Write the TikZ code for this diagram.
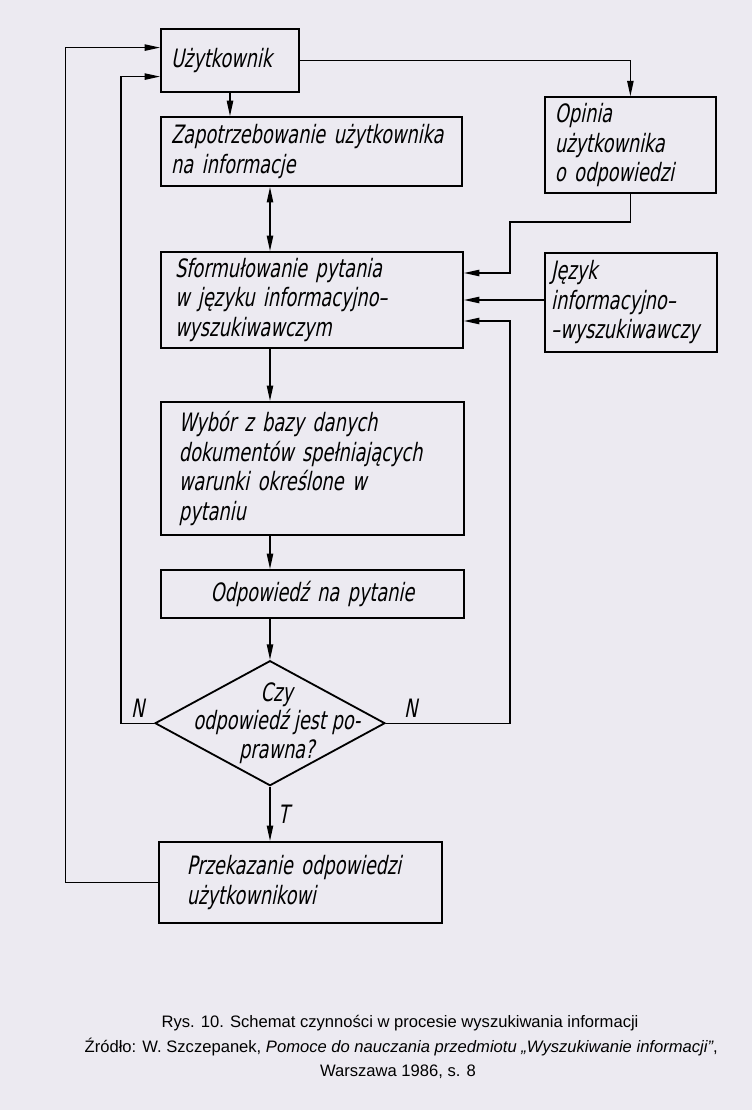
\documentclass[tikz,border=0pt]{standalone}
\usepackage{fontspec}
\setmainfont{Liberation Sans}
\newfontfamily\hand{DejaVu Sans}[FakeStretch=0.7,FakeSlant=0.2]
\usepackage{xcolor}
\usepackage{tikz}
\usetikzlibrary{positioning, shapes.geometric}
\usetikzlibrary{arrows.meta}

\definecolor{paper}{RGB}{236,234,241}

\tikzset{
	box/.style={draw, line width=1.3pt, inner ysep=0pt, align=left, font=\hand\fontsize{18}{21}\selectfont},
	decision/.style={diamond, draw, line width=1.3pt, inner sep=0pt, minimum width=5.75cm, minimum height=3.125cm},
	flow/.style={->, line width=1pt},
	mark label/.style={font=\hand\fontsize{18}{20}\selectfont}
}

\begin{document}
\begin{tikzpicture}[>={Triangle[length=11pt,width=4.5pt]}]

		\fill[paper] (0, 0) rectangle (18.8, -27.75);
		\useasboundingbox (0, 0) rectangle (18.8, -27.75);

		\node[box, text width=2.95cm, inner xsep=0.25cm, minimum height=1.575cm] (user) at (5.75, -1.51) {Użytkownik};
		\node[box, text width=7.025cm, inner xsep=0.25cm, minimum height=1.725cm] (need) at (7.79, -3.79) {Zapotrzebowanie użytkownika\\na informacje};
		\node[box, text width=3.775cm, inner xsep=0.25cm, minimum height=2.4cm] (opinion) at (15.76, -3.63) {Opinia\\użytkownika\\o odpowiedzi};
		\node[box, text width=6.85cm, inner xsep=0.35cm, minimum height=2.4cm] (query) at (7.8, -7.5) {Sformułowanie pytania\\w języku informacyjno–\\wyszukiwawczym};
		\node[box, text width=4cm, inner xsep=0.15cm, minimum height=2.475cm] (lang) at (15.78, -7.56) {Język\\informacyjno–\\\mbox{–wyszukiwawczy}};
		\node[box, text width=6.675cm, inner xsep=0.45cm, minimum height=3.325cm] (select) at (7.81, -11.71) {Wybór z bazy danych\\dokumentów spełniających\\warunki określone w\\pytaniu};
		\node[box, text width=7.575cm, inner xsep=0cm, minimum height=1.2cm, align=center] (answer) at (7.81, -14.85) {Odpowiedź na pytanie};
		\node[decision] (dec) at (6.75, -18.08) {};
		\node[mark label, align=center] (dectext) at (6.92, -18.08) {Czy\\odpowiedź jest po-\\prawna?};
		\node[box, text width=5.675cm, inner xsep=0.7cm, minimum height=2.025cm] (out) at (7.51, -22.06) {Przekazanie odpowiedzi\\użytkownikowi};

		\coordinate (rx) at (12.75, -5.55);
		\coordinate (lx) at (3.03, 0);
		\coordinate (ox) at (1.64, 0);

		\draw[flow] (user.south) -- (user.south |- need.north);
		\draw[flow, <->] (need.south -| dec) -- (query.north -| dec);
		\draw[flow] (query.south -| dec) -- (select.north -| dec);
		\draw[flow] (select.south -| dec) -- (answer.north -| dec);
		\draw[flow] (answer.south -| dec) -- (dec.north);
		\draw[flow] (dec.south) -- node[mark label, right, xshift=2pt] {T} (dec.south |- out.north);

		\draw[flow] (user.east) -| (opinion.north);
		\draw[flow] (opinion.south) |- (rx) |- ([yshift=0.675cm]query.east);
		\draw[flow] (lang.west |- query.east) -- (query.east);
		\draw[flow] (dec.east) -- node[mark label, above, pos=0.2] {N} (dec.east -| rx) |- ([yshift=-0.525cm]query.east);
		\draw[flow] (dec.west) -- node[mark label, above] {N} (dec.west -| lx) |- ([yshift=-0.405cm]user.west);
		\draw[flow] (out.west) -- (out.west -| ox) |- ([yshift=0.32cm]user.west);

		\node[font=\fontsize{11.8}{14}\selectfont] (cap1) at (10, -25.58) {Rys. 10. Schemat czynności w procesie wyszukiwania informacji};
		\node[font=\fontsize{11.8}{14}\selectfont] (cap2) at (10.03, -26.18) {Źródło: W. Szczepanek, \textit{Pomoce do nauczania przedmiotu „Wyszukiwanie informacji”},};
		\node[font=\fontsize{11.8}{14}\selectfont] (cap3) at (9.95, -26.8) {Warszawa 1986, s. 8};

	\end{tikzpicture}
\end{document}
